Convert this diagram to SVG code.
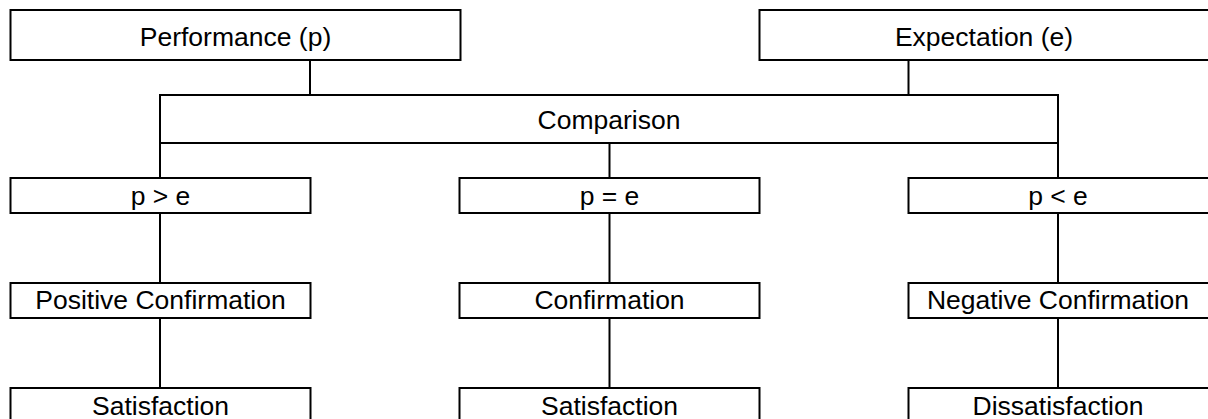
<svg xmlns="http://www.w3.org/2000/svg" width="1208" height="419" viewBox="0 0 1208 419">
<style>
.box{fill:#fff;stroke:#000;stroke-width:2}
.lbl{font-family:"Liberation Sans",Arial,sans-serif;font-size:26.5px;fill:#000;text-anchor:middle}
.con{stroke:#000;stroke-width:2;fill:none}
</style>
<rect width="1208" height="419" fill="#fff"/>
<g id="connectors">
<line class="con" x1="310" y1="60" x2="310" y2="95"/>
<line class="con" x1="908.5" y1="60" x2="908.5" y2="95"/>
<line class="con" x1="160" y1="143" x2="160" y2="178"/>
<line class="con" x1="609.5" y1="143" x2="609.5" y2="178"/>
<line class="con" x1="1058" y1="143" x2="1058" y2="178"/>
<line class="con" x1="160" y1="213" x2="160" y2="283"/>
<line class="con" x1="609.5" y1="213" x2="609.5" y2="283"/>
<line class="con" x1="1058" y1="213" x2="1058" y2="283"/>
<line class="con" x1="160" y1="318" x2="160" y2="388"/>
<line class="con" x1="609.5" y1="318" x2="609.5" y2="388"/>
<line class="con" x1="1058" y1="318" x2="1058" y2="388"/>
</g>
<g id="performance"><rect class="box" x="10.5" y="10" width="450" height="50"/><text class="lbl" x="235.5" y="46">Performance (p)</text></g>
<g id="expectation"><rect class="box" x="759.5" y="10" width="460" height="50"/><text class="lbl" x="984" y="46">Expectation (e)</text></g>
<g id="comparison"><rect class="box" x="160" y="95" width="898" height="48"/><text class="lbl" x="609" y="128.5">Comparison</text></g>
<g id="p_gt_e"><rect class="box" x="10.5" y="178" width="300" height="35"/><text class="lbl" x="160.5" y="205">p &gt; e</text></g>
<g id="p_eq_e"><rect class="box" x="459.5" y="178" width="300" height="35"/><text class="lbl" x="609.5" y="205">p = e</text></g>
<g id="p_lt_e"><rect class="box" x="908.5" y="178" width="310" height="35"/><text class="lbl" x="1058" y="205">p &lt; e</text></g>
<g id="positive_confirmation"><rect class="box" x="10.5" y="283" width="300" height="35"/><text class="lbl" x="160.5" y="309">Positive Confirmation</text></g>
<g id="confirmation"><rect class="box" x="459.5" y="283" width="300" height="35"/><text class="lbl" x="609.5" y="309">Confirmation</text></g>
<g id="negative_confirmation"><rect class="box" x="908.5" y="283" width="310" height="35"/><text class="lbl" x="1058" y="309">Negative Confirmation</text></g>
<g id="satisfaction_1"><rect class="box" x="10.5" y="388" width="300" height="45"/><text class="lbl" x="160.5" y="414.5">Satisfaction</text></g>
<g id="satisfaction_2"><rect class="box" x="459.5" y="388" width="300" height="45"/><text class="lbl" x="609.5" y="414.5">Satisfaction</text></g>
<g id="dissatisfaction"><rect class="box" x="908.5" y="388" width="310" height="45"/><text class="lbl" x="1058" y="414.5">Dissatisfaction</text></g>
</svg>
